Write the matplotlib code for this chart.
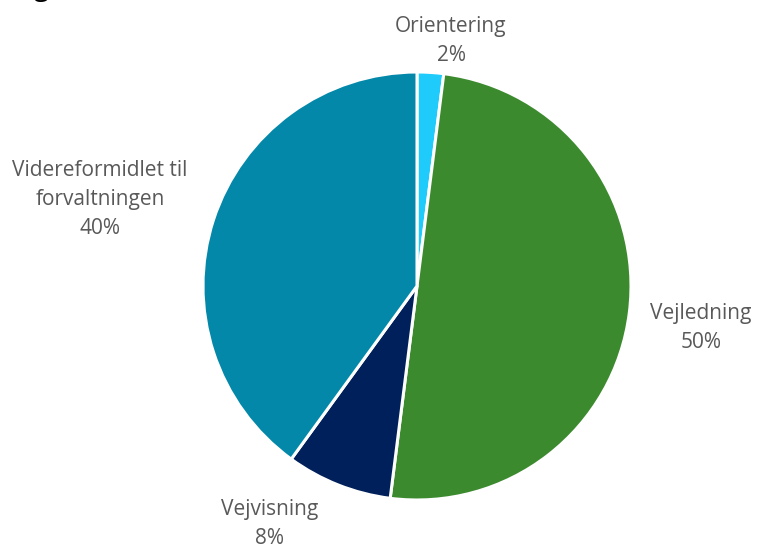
import matplotlib.pyplot as plt

plt.rcParams['font.family'] = ['Open Sans', 'DejaVu Sans']

# andel af henvendelser fordelt på type
kategorier = ['Orientering', 'Vejledning', 'Vejvisning', 'Videreformidlet til\nforvaltningen']
andele = [2, 50, 8, 40]
farver = ['#1ecbfa', '#3c8a2e', '#00205b', '#0388aa']

# label-placering i figurkoordinater (centrum af tekstblok)
label_pos = [(451, 41), (701, 328), (270, 524), (100, 200)]

W, H = 757, 549
fig = plt.figure(figsize=(W / 100, H / 100), dpi=100)

cx, cy, r = 417, 286, 214
ax = fig.add_axes([(cx - r) / W, 1 - (cy + r) / H, 2 * r / W, 2 * r / H])
ax.pie(andele, colors=farver, startangle=90, counterclock=False,
       wedgeprops=dict(edgecolor='white', linewidth=2.2))
ax.set_aspect('equal')
ax.set_xlim(-1, 1)
ax.set_ylim(-1, 1)

for navn, v, (x, y) in zip(kategorier, andele, label_pos):
    fig.text(x / W, 1 - y / H, f'{navn}\n{v}%', ha='center', va='center',
             fontsize=15, color='#595959', linespacing=1.5)

# afskåret titel øverst
fig.text(34 / W, 1 + 5 / H, 'g', fontsize=20, color='black', ha='left', va='baseline')

fig.savefig('out.png', dpi=100)
